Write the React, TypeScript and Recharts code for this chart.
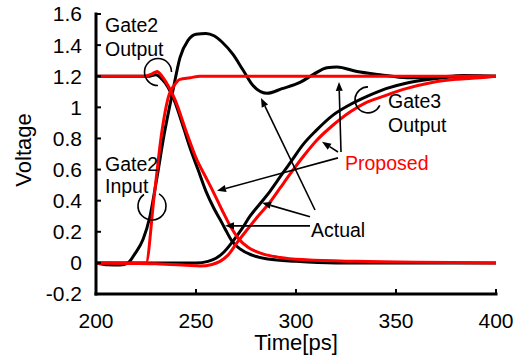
import React from 'react';
import { LineChart, Line, XAxis, YAxis, ReferenceLine, ReferenceDot } from 'recharts';

const FONT = '"Liberation Sans", Arial, Helvetica, sans-serif';
const RED = '#ff0000';

const xTicks = [200, 250, 300, 350, 400];
const yTicks = [-0.2, 0, 0.2, 0.4, 0.6, 0.8, 1, 1.2, 1.4, 1.6];

// black = actual, red = proposed
const gate2InActual = [
  { t: 200, v: 0 }, { t: 206, v: -0.012 }, { t: 212, v: -0.014 }, { t: 216, v: 0.0 },
  { t: 219.5, v: 0.06 }, { t: 223.5, v: 0.15 }, { t: 227, v: 0.3 }, { t: 230.5, v: 0.55 },
  { t: 234, v: 0.82 }, { t: 238.5, v: 1.11 }, { t: 242, v: 1.32 }, { t: 246, v: 1.43 },
  { t: 250, v: 1.47 }, { t: 255, v: 1.475 }, { t: 259, v: 1.46 }, { t: 263, v: 1.42 },
  { t: 268.5, v: 1.34 }, { t: 273.5, v: 1.24 }, { t: 278.5, v: 1.14 }, { t: 285.5, v: 1.09 },
  { t: 293, v: 1.12 }, { t: 302, v: 1.16 }, { t: 308.5, v: 1.21 }, { t: 315.5, v: 1.255 },
  { t: 320.5, v: 1.26 }, { t: 330.5, v: 1.23 }, { t: 342, v: 1.21 }, { t: 355.5, v: 1.19 },
  { t: 367, v: 1.19 }, { t: 383.5, v: 1.205 }, { t: 400, v: 1.2 },
];

const gate2OutActual = [
  { t: 200, v: 1.2 }, { t: 226, v: 1.2 }, { t: 230, v: 1.21 }, { t: 233, v: 1.18 },
  { t: 236, v: 1.13 }, { t: 239, v: 1.05 }, { t: 244, v: 0.86 }, { t: 247, v: 0.74 },
  { t: 251, v: 0.6 }, { t: 255, v: 0.46 }, { t: 259, v: 0.35 }, { t: 262, v: 0.28 },
  { t: 264.5, v: 0.22 }, { t: 268, v: 0.14 }, { t: 272, v: 0.09 }, { t: 278, v: 0.05 },
  { t: 286, v: 0.025 }, { t: 300, v: 0.01 }, { t: 320, v: 0 }, { t: 400, v: 0 },
];

const gate3OutActual = [
  { t: 200, v: 0 }, { t: 250, v: 0 }, { t: 256, v: 0.01 }, { t: 260, v: 0.03 },
  { t: 264, v: 0.07 }, { t: 268.5, v: 0.14 }, { t: 273, v: 0.22 }, { t: 277, v: 0.3 },
  { t: 282, v: 0.38 }, { t: 287, v: 0.46 }, { t: 293, v: 0.57 }, { t: 298, v: 0.66 },
  { t: 303.5, v: 0.76 }, { t: 310, v: 0.85 }, { t: 318.5, v: 0.95 }, { t: 326, v: 1.01 },
  { t: 335.5, v: 1.07 }, { t: 345, v: 1.12 }, { t: 355, v: 1.155 }, { t: 367, v: 1.18 },
  { t: 385, v: 1.2 }, { t: 400, v: 1.2 },
];

const gate2InProposed = [
  { t: 200, v: 0 }, { t: 225, v: 0 }, { t: 229, v: 0.42 }, { t: 233, v: 0.85 },
  { t: 236.5, v: 1.08 }, { t: 239, v: 1.14 }, { t: 242, v: 1.18 }, { t: 247, v: 1.19 },
  { t: 252, v: 1.2 }, { t: 400, v: 1.2 },
];

const gate2OutProposed = [
  { t: 200, v: 1.2 }, { t: 224, v: 1.2 }, { t: 228, v: 1.215 }, { t: 230.5, v: 1.23 },
  { t: 233, v: 1.2 }, { t: 236, v: 1.14 }, { t: 239.5, v: 1.05 }, { t: 245.5, v: 0.83 },
  { t: 250.5, v: 0.66 }, { t: 254.5, v: 0.56 }, { t: 258.5, v: 0.46 }, { t: 263, v: 0.34 },
  { t: 267, v: 0.24 }, { t: 271, v: 0.16 }, { t: 276, v: 0.1 }, { t: 283, v: 0.06 },
  { t: 292, v: 0.035 }, { t: 305, v: 0.02 }, { t: 330, v: 0.01 }, { t: 400, v: 0 },
];

const gate3OutProposed = [
  { t: 200, v: 0 }, { t: 230, v: -0.005 }, { t: 245, v: -0.015 }, { t: 252, v: -0.02 },
  { t: 258, v: -0.01 }, { t: 262, v: 0.01 }, { t: 266, v: 0.05 }, { t: 270.5, v: 0.13 },
  { t: 276, v: 0.22 }, { t: 281, v: 0.3 }, { t: 287, v: 0.39 }, { t: 292, v: 0.48 },
  { t: 297, v: 0.57 }, { t: 304, v: 0.69 }, { t: 310.5, v: 0.79 }, { t: 318, v: 0.88 },
  { t: 327, v: 0.97 }, { t: 335, v: 1.03 }, { t: 343.5, v: 1.07 }, { t: 355, v: 1.12 },
  { t: 368, v: 1.16 }, { t: 380, v: 1.18 }, { t: 392, v: 1.19 }, { t: 400, v: 1.2 },
];

// annotations, in data units
const notes = [
  { text: 'Gate2', t: 204.5, v: 1.485, color: '#000' },
  { text: 'Output', t: 204.5, v: 1.33, color: '#000' },
  { text: 'Gate2', t: 204.5, v: 0.59, color: '#000' },
  { text: 'Input', t: 204.5, v: 0.45, color: '#000' },
  { text: 'Gate3', t: 346, v: 0.996, color: '#000' },
  { text: 'Output', t: 346, v: 0.84, color: '#000' },
  { text: 'Proposed', t: 324.5, v: 0.598, color: RED },
  { text: 'Actual', t: 307.5, v: 0.167, color: '#000' },
];

const arrows = [
  { from: [309.5, 0.34], to: [282.5, 1.06] },
  { from: [307, 0.296], to: [283, 0.386] },
  { from: [307, 0.238], to: [264.5, 0.238] },
  { from: [321, 0.675], to: [260.5, 0.463] },
  { from: [321, 0.713], to: [313, 0.778] },
  { from: [322.5, 0.713], to: [321.5, 1.163] },
];

// small "(" marks: centre, radius px, start/end angle (deg, clockwise)
const arcs = [
  { t: 231, v: 1.227, r: 13.5, a0: 90, a1: 360 },
  { t: 228, v: 0.366, r: 14, a0: -60, a1: 235 },
  { t: 336, v: 1.048, r: 13, a0: 25, a1: 270 },
];

const ArrowShape = (p: any) => {
  const { x1, y1, x2, y2 } = p;
  const a = Math.atan2(y2 - y1, x2 - x1);
  const L = 9;
  const W = 3.5;
  const bx = x2 - L * Math.cos(a);
  const by = y2 - L * Math.sin(a);
  const pts = `${x2},${y2} ${bx + W * Math.sin(a)},${by - W * Math.cos(a)} ${bx - W * Math.sin(a)},${by + W * Math.cos(a)}`;
  return (
    <g>
      <line x1={x1} y1={y1} x2={bx} y2={by} stroke="#000" strokeWidth={1.6} />
      <polygon points={pts} fill="#000" />
    </g>
  );
};

const arcShape = (r: number, a0: number, a1: number) => (p: any) => {
  const { cx, cy } = p;
  const rad = (d: number) => (d * Math.PI) / 180;
  const sx = cx + r * Math.cos(rad(a0));
  const sy = cy + r * Math.sin(rad(a0));
  const ex = cx + r * Math.cos(rad(a1));
  const ey = cy + r * Math.sin(rad(a1));
  const large = a1 - a0 > 180 ? 1 : 0;
  return <path d={`M ${sx} ${sy} A ${r} ${r} 0 ${large} 1 ${ex} ${ey}`} fill="none" stroke="#000" strokeWidth={1.6} />;
};

const textShape = (text: string, color: string) => (p: any) => (
  <text x={p.cx} y={p.cy} fill={color} fontSize={19.5} fontFamily={FONT}>
    {text}
  </text>
);

const axisLine = { stroke: '#000', strokeWidth: 3, strokeLinecap: 'square' as const };
const tickLine = { stroke: '#000', strokeWidth: 2 };
const tickStyle = { fill: '#000', fontSize: 21, fontFamily: FONT };

export default function App() {
  return (
    <div style={{ position: 'absolute', left: 0, top: 0, background: '#fff' }}>
      <LineChart width={521} height={358} margin={{ top: 14, right: 25, left: 0, bottom: 0 }}>
        <XAxis
          dataKey="t"
          type="number"
          domain={[200, 400]}
          ticks={xTicks}
          allowDataOverflow
          height={64}
          axisLine={axisLine}
          tickLine={tickLine}
          tickSize={-5}
          tickMargin={24}
          tick={tickStyle}
          label={{
            content: (p: any) => (
              <text
                x={p.viewBox.x + p.viewBox.width / 2}
                y={p.viewBox.y + 56}
                textAnchor="middle"
                fill="#000"
                fontSize={22}
                fontFamily={FONT}
              >
                Time[ps]
              </text>
            ),
          }}
        />
        <XAxis
          xAxisId="top"
          orientation="top"
          type="number"
          dataKey="t"
          domain={[200, 400]}
          ticks={xTicks}
          height={0}
          axisLine={axisLine}
          tickLine={tickLine}
          tickSize={-5}
          tick={false}
        />
        <YAxis
          type="number"
          domain={[-0.2, 1.6]}
          ticks={yTicks}
          allowDataOverflow
          width={96}
          axisLine={axisLine}
          tickLine={tickLine}
          tickSize={-5}
          tickMargin={19}
          tick={tickStyle}
          tickFormatter={(v: number) => String(Math.round(v * 10) / 10)}
          label={{
            content: (p: any) => {
              const cx = p.viewBox.x + 23;
              const cy = p.viewBox.y + p.viewBox.height / 2 - 4;
              return (
                <text
                  x={cx}
                  y={cy}
                  transform={`rotate(-90, ${cx}, ${cy})`}
                  textAnchor="middle"
                  dominantBaseline="central"
                  fill="#000"
                  fontSize={22}
                  fontFamily={FONT}
                >
                  Voltage
                </text>
              );
            },
          }}
        />
        <YAxis
          yAxisId="right"
          orientation="right"
          type="number"
          domain={[-0.2, 1.6]}
          ticks={yTicks}
          width={0}
          axisLine={axisLine}
          tickLine={tickLine}
          tickSize={-5}
          tick={false}
        />

        <Line data={gate2InActual} dataKey="v" type="monotone" stroke="#000" strokeWidth={3} dot={false} activeDot={false} isAnimationActive={false} />
        <Line data={gate2OutActual} dataKey="v" type="monotone" stroke="#000" strokeWidth={3} dot={false} activeDot={false} isAnimationActive={false} />
        <Line data={gate3OutActual} dataKey="v" type="monotone" stroke="#000" strokeWidth={3} dot={false} activeDot={false} isAnimationActive={false} />
        <Line data={gate2InProposed} dataKey="v" type="monotone" stroke={RED} strokeWidth={3} dot={false} activeDot={false} isAnimationActive={false} />
        <Line data={gate2OutProposed} dataKey="v" type="monotone" stroke={RED} strokeWidth={3} dot={false} activeDot={false} isAnimationActive={false} />
        <Line data={gate3OutProposed} dataKey="v" type="monotone" stroke={RED} strokeWidth={3} dot={false} activeDot={false} isAnimationActive={false} />

        {arrows.map((a, i) => (
          <ReferenceLine
            key={`arrow-${i}`}
            segment={[{ x: a.from[0], y: a.from[1] }, { x: a.to[0], y: a.to[1] }]}
            shape={ArrowShape}
            ifOverflow="visible"
          />
        ))}
        {arcs.map((a, i) => (
          <ReferenceDot key={`arc-${i}`} x={a.t} y={a.v} r={a.r} shape={arcShape(a.r, a.a0, a.a1)} ifOverflow="visible" />
        ))}
        {notes.map((n, i) => (
          <ReferenceDot key={`note-${i}`} x={n.t} y={n.v} shape={textShape(n.text, n.color)} ifOverflow="visible" />
        ))}
      </LineChart>
    </div>
  );
}
